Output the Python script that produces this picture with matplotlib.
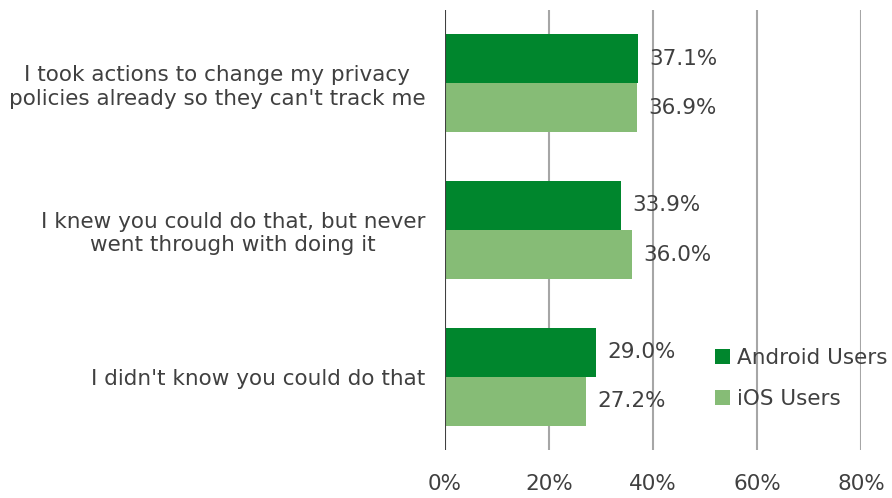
import matplotlib.pyplot as plt
import numpy as np

categories = [
    "I took actions to change my privacy\npolicies already so they can't track me",
    "I knew you could do that, but never\nwent through with doing it",
    "I didn't know you could do that",
]
android = [37.1, 33.9, 29.0]
ios = [36.9, 36.0, 27.2]
series_names = ["Android Users", "iOS Users"]
xticks = [0, 20, 40, 60, 80]

text_color = "#404040"
c_android = "#00862D"
c_ios = "#86BC76"

plt.rcParams["font.family"] = ["DejaVu Sans"]

fig = plt.figure(figsize=(8.92, 4.98), dpi=100)
ax = fig.add_axes([445 / 892, 48 / 498, 416 / 892, 440 / 498])

y = np.arange(len(categories))
h = 0.335
b1 = ax.barh(y - h / 2, android, height=h, color=c_android, label=series_names[0], zorder=3)
b2 = ax.barh(y + h / 2, ios, height=h, color=c_ios, label=series_names[1], zorder=3)

for bars, vals in ((b1, android), (b2, ios)):
    for bar, v in zip(bars, vals):
        ax.annotate(f"{v:.1f}%", (v, bar.get_y() + bar.get_height() / 2),
                    xytext=(8, 0), textcoords="offset points",
                    va="center", ha="left", fontsize=15.5, color=text_color, zorder=4)

ax.set_xlim(0, 80)
ax.set_ylim(len(categories) - 0.5, -0.5)
ax.set_xticks(xticks)
ax.set_xticklabels([f"{t}%" for t in xticks], fontsize=15.5, color=text_color)
ax.set_yticks(y)
ax.set_yticklabels(categories, fontsize=15.5, color=text_color, multialignment="center")
ax.tick_params(axis="both", length=0)
ax.tick_params(axis="x", pad=17)
ax.tick_params(axis="y", pad=14)

for t in xticks[1:]:
    ax.axvline(t, color="#A6A6A6", lw=1.5, zorder=1)
ax.axvline(0, color="#404040", lw=1.5, zorder=5)
for s in ax.spines.values():
    s.set_visible(False)

leg = ax.legend(loc="lower right", bbox_to_anchor=(1.11, 0.05), frameon=False,
                fontsize=15.5, handlelength=0.7, handleheight=0.7, handletextpad=0.3,
                labelspacing=0.95, labelcolor=text_color)

fig.savefig("out.png", dpi=100)
